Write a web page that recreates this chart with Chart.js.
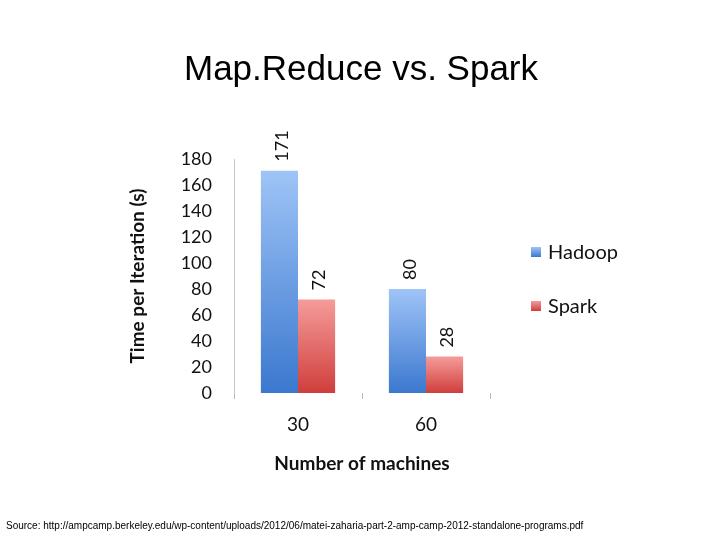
<!DOCTYPE html>
<html>
<head>
<meta charset="utf-8">
<script src="https://cdn.jsdelivr.net/npm/chart.js@4/dist/chart.umd.min.js"></script>
<style>
  body { margin: 0; background: #fff; }
  #wrap { position: relative; width: 720px; height: 540px; }
  #source { position: absolute; left: 6px; top: 520px; font: 10px "Liberation Sans", Arial, sans-serif; color: #000; }
</style>
</head>
<body>
<div id="wrap">
  <canvas id="grafico" width="720" height="540"></canvas>
  <div id="source">Source: http://ampcamp.berkeley.edu/wp-content/uploads/2012/06/matei-zaharia-part-2-amp-camp-2012-standalone-programs.pdf</div>
</div>
<script>
// datos del grafico
var maquinas = ["30", "60"];
var hadoop = [171, 80];
var spark = [72, 28];
var ticksY = [0, 20, 40, 60, 80, 100, 120, 140, 160, 180];

var tituloGrafico = "Map.Reduce vs. Spark";

// degradado por barra
function degradado(arriba, abajo) {
    return function(ctx) {
        var chart = ctx.chart;
        if (!chart.chartArea || ctx.parsed === undefined) return abajo;
        var y = chart.scales.y;
        var top = y.getPixelForValue(ctx.parsed.y);
        var bottom = y.getPixelForValue(0);
        if (!isFinite(top) || top === bottom) return abajo;
        var g = chart.ctx.createLinearGradient(0, bottom, 0, top);
        g.addColorStop(0, abajo);
        g.addColorStop(1, arriba);
        return g;
    };
}

var colorHadoop = ["#9fc4f7", "#3b78cf"];
var colorSpark = ["#f59c9a", "#cf3e3c"];

// etiquetas, titulo y leyenda
var extras = {
    id: 'extras',
    afterDatasetsDraw: function(chart) {
        var ctx = chart.ctx;
        ctx.save();
        ctx.fillStyle = "#111";
        ctx.font = "18px Lato, 'Liberation Sans', sans-serif";
        ctx.textAlign = "left";
        ctx.textBaseline = "middle";
        chart.data.datasets.forEach(function(ds, i) {
            chart.getDatasetMeta(i).data.forEach(function(bar, j) {
                ctx.save();
                ctx.translate(bar.x + 3, bar.y - 9);
                ctx.rotate(-Math.PI / 2);
                ctx.fillText(ds.data[j], 0, 0);
                ctx.restore();
            });
        });
        ctx.restore();
    },
    afterDraw: function(chart) {
        var ctx = chart.ctx;
        var area = chart.chartArea;
        ctx.save();
        // titulo
        ctx.fillStyle = "#000";
        ctx.font = "35px 'Liberation Sans', Arial, sans-serif";
        ctx.textAlign = "center";
        ctx.textBaseline = "middle";
        ctx.fillText(tituloGrafico, 361, 70);
        // leyenda
        var colores = [colorHadoop, colorSpark];
        ctx.font = "20px Lato, 'Liberation Sans', sans-serif";
        ctx.textAlign = "left";
        chart.data.datasets.forEach(function(ds, i) {
            var x = area.right + 41;
            var y = 252 + i * 54;
            var g = ctx.createLinearGradient(0, y + 5, 0, y - 5);
            g.addColorStop(0, colores[i][1]);
            g.addColorStop(1, colores[i][0]);
            ctx.fillStyle = g;
            ctx.fillRect(x, y - 5, 10, 10);
            ctx.fillStyle = "#111";
            ctx.fillText(ds.label, x + 17, y + 1);
        });
        ctx.restore();
    }
};

new Chart(document.getElementById("grafico"), {
    type: 'bar',
    data: {
        labels: maquinas,
        datasets: [{
            label: "Hadoop",
            data: hadoop,
            backgroundColor: degradado(colorHadoop[0], colorHadoop[1]),
            borderWidth: 0,
            categoryPercentage: 0.58,
            barPercentage: 1
        }, {
            label: "Spark",
            data: spark,
            backgroundColor: degradado(colorSpark[0], colorSpark[1]),
            borderWidth: 0,
            categoryPercentage: 0.58,
            barPercentage: 1
        }]
    },
    options: {
        responsive: false,
        animation: false,
        layout: {
            padding: { left: 120, right: 230, top: 159, bottom: 57 }
        },
        plugins: {
            legend: { display: false },
            title: { display: false },
            tooltip: { enabled: false }
        },
        scales: {
            x: {
                grid: { display: true, drawOnChartArea: false, drawTicks: true, tickLength: 6, color: "#b8b8b8", offset: true },
                border: { display: false },
                ticks: {
                    padding: 14,
                    color: "#111",
                    font: { family: "Lato, 'Liberation Sans', sans-serif", size: 19 }
                },
                title: {
                    display: true,
                    text: "Number of machines",
                    color: "#111",
                    font: { family: "Lato, 'Liberation Sans', sans-serif", size: 19, weight: 'bold' },
                    padding: { top: 4, bottom: 8 }
                },
                afterFit: function(scale) { scale.height = 90; }
            },
            y: {
                min: 0,
                max: 180,
                afterBuildTicks: function(scale) {
                    scale.ticks = ticksY.map(function(v) { return { value: v }; });
                },
                grid: { display: false },
                border: { display: true, color: "#c8c8c8", width: 1 },
                ticks: {
                    padding: 14,
                    color: "#111",
                    font: { family: "Lato, 'Liberation Sans', sans-serif", size: 18 }
                },
                title: {
                    display: true,
                    text: "Time per Iteration (s)",
                    color: "#111",
                    font: { family: "Lato, 'Liberation Sans', sans-serif", size: 19, weight: 'bold' },
                    padding: { top: 6, bottom: 0 }
                },
                afterFit: function(scale) { scale.width = 114; }
            }
        }
    },
    plugins: [extras]
});
</script>
</body>
</html>
